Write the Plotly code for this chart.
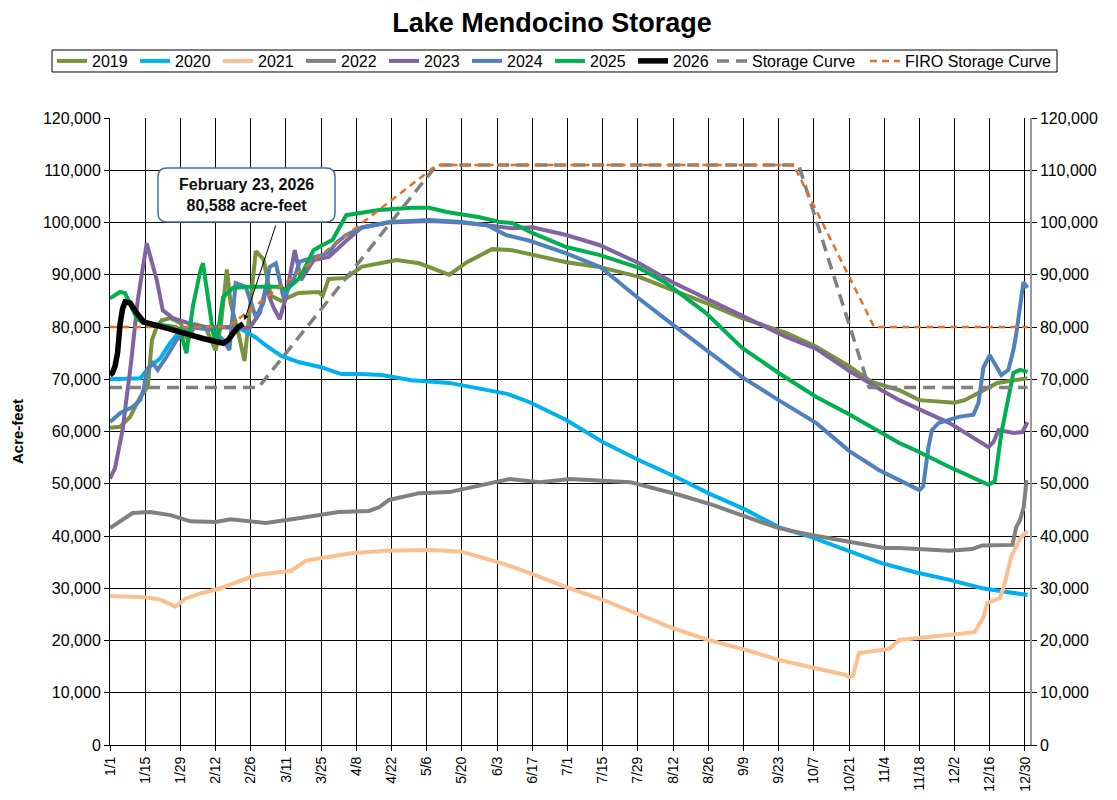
import plotly.graph_objects as go

# ---------------- data (day of year, 0 = Jan 1; storage in acre-feet) ----------------
tick_days = list(range(0, 365, 14))
tick_labels = ["1/1", "1/15", "1/29", "2/12", "2/26", "3/11", "3/25", "4/8", "4/22", "5/6",
               "5/20", "6/3", "6/17", "7/1", "7/15", "7/29", "8/12", "8/26", "9/9", "9/23",
               "10/7", "10/21", "11/4", "11/18", "12/2", "12/16", "12/30"]

days_2019 = [0, 4, 8, 12, 15, 16.7, 18.6, 20.6, 24, 28, 31, 34, 38, 42, 44, 46.5, 48, 51, 53.5, 56, 58,
             61, 64, 68, 75, 83, 84.6, 87, 94, 100, 114, 123, 135, 142, 152, 160, 168, 181.5, 194.6,
             210.5, 223.6, 237, 251.4, 269, 281, 294, 303, 314, 322, 336, 340, 344, 353, 365]
af_2019 = [60700, 60900, 62800, 66600, 68500, 77500, 80000, 81300, 81700, 80800, 77500, 80500, 80000,
           75500, 80000, 91000, 84500, 79000, 73500, 85000, 94500, 93000, 86000, 85000, 86500, 86700,
           86000, 89200, 89400, 91500, 92800, 92200, 90000, 92400, 94900, 94700, 93800, 92400, 91500,
           89600, 87100, 84600, 81700, 78900, 76200, 72500, 69500, 67900, 66000, 65500, 66000,
           67000, 69300, 70200]

days_2020 = [0, 12, 16, 20, 24, 28, 32, 50, 53, 58, 62, 68, 75, 84, 92, 100, 108, 120, 135, 147, 158,
             167, 181.5, 196, 210.5, 226, 238, 253, 266, 279, 293, 307, 320, 334, 347, 365]
af_2020 = [70000, 70200, 72500, 74000, 77000, 79300, 80000, 80000, 79400, 78000, 76500, 74500, 73300,
           72300, 71000, 71000, 70800, 69800, 69300, 68300, 67200, 65600, 62200, 58000, 54500, 51100,
           48200, 45000, 41700, 39800, 37300, 34800, 33100, 31600, 30000, 28700]

days_2021 = [0, 14, 20, 26, 30, 36, 44, 52, 58, 66, 72, 78, 86, 96, 110, 128, 140, 147, 157, 167,
             181.5, 196, 209, 223.6, 238, 253, 266, 279, 292.7, 294, 295.5, 298, 310, 314, 327, 344,
             347.5, 349, 354, 356, 358.5, 362, 365]
af_2021 = [28500, 28300, 27800, 26500, 28000, 29000, 30000, 31500, 32500, 33000, 33300, 35300, 36000,
           36700, 37200, 37300, 37000, 36000, 34600, 32900, 30200, 27800, 25300, 22400, 20100, 18200,
           16300, 14900, 13400, 13000, 13200, 17600, 18400, 20100, 20700, 21600, 24500, 27200, 28100,
           31000, 36000, 39500, 41000]

days_2022 = [0, 5, 9, 16, 24, 32, 42, 48, 55, 62, 75, 91, 103, 107, 111, 123, 135, 143, 147, 159, 171,
             183, 207, 227, 240, 253, 266, 279, 293, 308, 314, 322, 334, 343, 347, 359, 360.5, 362,
             363.5, 364.6]
af_2022 = [41500, 43000, 44400, 44600, 44000, 42800, 42700, 43200, 42800, 42500, 43400, 44600, 44800,
           45500, 46900, 48200, 48400, 49200, 49600, 50900, 50300, 50900, 50300, 47800, 45900, 43600,
           41500, 40200, 38900, 37700, 37700, 37500, 37200, 37500, 38200, 38300, 41700, 43000, 45500,
           50700]

days_2023 = [0, 2, 5, 8.5, 11, 14.6, 18.6, 21, 25, 36, 55.6, 59.6, 62, 65, 67.5, 70, 73.5, 76, 81, 87,
             94, 100, 111, 127, 140, 150, 160, 168, 181.5, 194.6, 210.5, 223.6, 237, 251.4, 269, 281,
             294, 307, 314, 334, 349.5, 351.5, 353.5, 359.4, 363, 365]
af_2023 = [51000, 53000, 60300, 73700, 85000, 96000, 89000, 83200, 81700, 80000, 79800, 82700, 87500,
           83800, 81500, 85700, 94700, 89000, 92800, 93400, 96500, 99000, 100000, 100300, 100000, 99500,
           98900, 99100, 97600, 95700, 92200, 88600, 85500, 82300, 78100, 75800, 71600, 67900,
           66000, 61600, 57000, 58000, 60300, 59700, 59900, 61800]

days_2024 = [0, 4, 9, 12, 13.5, 14.6, 17, 19, 22.5, 26.5, 31.8, 41, 45, 47.5, 50, 54, 58, 61, 63.5,
             66, 69, 73, 75.5, 81, 87, 90, 94, 100.5, 111, 127, 140, 150, 157.6, 167, 181, 195, 210,
             224, 237, 251.5, 266, 281, 294, 306, 314, 322, 323.5, 325.6, 327, 329.6, 337.6, 343.5,
             345.5, 347.5, 350, 352.6, 354.6, 357.4, 359.4, 360.6, 362, 363.4, 365]
af_2024 = [61800, 63500, 64700, 66000, 68300, 71800, 73100, 71800, 74300, 77500, 80000, 79400, 77500,
           75600, 88400, 87700, 81900, 84600, 91500, 92200, 85700, 89000, 92500, 93400, 94200, 96100,
           97600, 99100, 100100, 100500, 100100, 99500, 97600, 96500, 94200, 91500, 85600, 80400,
           75600, 70400, 66000, 61600, 56300, 52600, 50700, 48800, 49500, 57000, 60300, 61600, 62800,
           63200, 65500, 72300, 74600, 72300, 70800, 71800, 75600, 78900, 83300, 88600, 87500]

days_2025 = [0, 4, 6, 8, 10.6, 13.2, 20, 26, 28, 30.4, 33, 36, 37, 39, 41, 42.3, 45, 49, 55.6, 67.5,
             70, 75.5, 81, 84.6, 88.6, 91.3, 94, 107, 120, 127, 134, 147, 155, 160, 168, 181.5, 194.6,
             210.5, 221, 237, 251.5, 266, 281, 294, 307, 314, 320, 334, 349.5, 352, 354.6, 357.4, 359.4,
             362, 365]
af_2025 = [85500, 86700, 86500, 84200, 81700, 80800, 80300, 80000, 79400, 75000, 84000, 90900, 92200,
           86000, 78900, 76900, 85700, 87500, 87700, 87700, 87100, 89400, 94700, 95700, 96700, 99100,
           101400, 102400, 102800, 102800, 102000, 101000, 100100, 99900, 98000, 95300, 93800, 91300,
           88500, 82700, 76000, 71200, 66600, 63300, 59700, 57800, 56500, 53200, 49800, 50500, 59700,
           66000, 71200, 71800, 71400]

days_2026 = [0, 1, 2, 3, 4, 5, 6, 8, 10.6, 13.3, 22.5, 29, 37, 45, 47, 49, 51, 53]
af_2026 = [70800, 71200, 72500, 75000, 80500, 83500, 84800, 84600, 82700, 81000, 79800, 78800, 77800,
           76900, 77500, 78800, 80000, 80588]

days_storage = [0, 59, 130, 274, 302, 365]
af_storage = [68400, 68400, 111000, 111000, 68400, 68400]

days_firo = [0, 47, 130, 272, 304, 365]
af_firo = [80000, 80000, 111000, 111000, 80000, 80000]

latest_day = 53
latest_af = 80588
latest_label = "February 23, 2026"

# ---------------- figure geometry (page body adds an 8px offset) ----------------
FONT = "Liberation Sans, Arial, sans-serif"
W, H = 1109, 792
ML, MR, MT, MB = 102, 87, 110, 55
PW, PH = W - ML - MR, H - MT - MB


def px_to_paper(px, py):
    return (px - ML) / PW, (H - MB - py) / PH


def P(x, y):
    a, b = px_to_paper(x, y)
    return f"{a:.5f},{b:.5f}"


fig = go.Figure()

years = [
    ("2019", days_2019, af_2019, "#77933C"),
    ("2020", days_2020, af_2020, "#00B0F0"),
    ("2021", days_2021, af_2021, "#FAC090"),
    ("2022", days_2022, af_2022, "#808080"),
    ("2023", days_2023, af_2023, "#8064A2"),
    ("2024", days_2024, af_2024, "#4F81BD"),
    ("2025", days_2025, af_2025, "#00B050"),
]
for i, (name, dx, dy, col) in enumerate(years):
    fig.add_trace(go.Scatter(x=dx, y=dy, name=name, mode="lines", legend="legend",
                             line=dict(color=col, width=4), legendrank=i + 1))

fig.add_trace(go.Scatter(x=days_storage, y=af_storage, name="Storage Curve", mode="lines",
                         legend="legend2",
                         line=dict(color="#808080", width=3.5, dash="12px,7px")))
fig.add_trace(go.Scatter(x=days_firo, y=af_firo, name="FIRO Storage Curve", mode="lines",
                         legend="legend3",
                         line=dict(color="#E07126", width=2.5, dash="7px,5px")))
fig.add_trace(go.Scatter(x=days_2026, y=af_2026, name="2026", mode="lines", legend="legend",
                         line=dict(color="#000000", width=5.5), legendrank=8))
# invisible trace so the right-hand axis is drawn
fig.add_trace(go.Scatter(x=[0], y=[0], yaxis="y2", mode="lines", showlegend=False,
                         hoverinfo="skip", line=dict(width=0)))

# legend frame
lx0, ly0, lx1, ly1 = 44, 42, 1049, 64
fig.add_shape(type="path", xref="paper", yref="paper", layer="above",
              path=f"M{P(lx0, ly0)} L{P(lx1, ly0)} L{P(lx1, ly1)} L{P(lx0, ly1)} Z",
              line=dict(color="black", width=1))

# rounded call-out box
bx0, by0, bx1, by1, r = 150, 160, 327, 214, 9
path = (f"M{P(bx0 + r, by0)} L{P(bx1 - r, by0)} Q{P(bx1, by0)} {P(bx1, by0 + r)} "
        f"L{P(bx1, by1 - r)} Q{P(bx1, by1)} {P(bx1 - r, by1)} "
        f"L{P(bx0 + r, by1)} Q{P(bx0, by1)} {P(bx0, by1 - r)} "
        f"L{P(bx0, by0 + r)} Q{P(bx0, by0)} {P(bx0 + r, by0)} Z")
fig.add_shape(type="path", path=path, xref="paper", yref="paper", layer="above",
              fillcolor="white", line=dict(color="#41719C", width=1.5))

cx, cy = px_to_paper((bx0 + bx1) / 2, (by0 + by1) / 2)
fig.add_annotation(xref="paper", yref="paper", x=cx, y=cy, xanchor="center", yanchor="middle",
                   text=f"<b>{latest_label}<br>{latest_af:,} acre-feet</b>",
                   showarrow=False, font=dict(family=FONT, size=16, color="#111111"),
                   align="center")
fig.add_annotation(x=latest_day, y=latest_af, xref="x", yref="y", text="",
                   showarrow=True, ax=33, ay=-100, arrowhead=2, arrowsize=1,
                   arrowwidth=1, arrowcolor="black", standoff=4)

legend_common = dict(orientation="h", xref="container", yref="container", xanchor="left",
                     yanchor="middle", y=1 - 53 / H, bgcolor="rgba(0,0,0,0)", borderwidth=0,
                     font=dict(family=FONT, size=16), itemwidth=30, traceorder="normal")

fig.update_layout(
    width=W, height=H,
    margin=dict(l=ML, r=MR, t=MT, b=MB, autoexpand=False),
    paper_bgcolor="white", plot_bgcolor="white",
    font=dict(family=FONT, color="black"),
    title=dict(text="<b>Lake Mendocino Storage</b>", x=544 / W, xref="container",
               y=1 - 15 / H, yanchor="middle", xanchor="center",
               font=dict(family=FONT, size=27, color="black")),
    legend=dict(x=44 / W, entrywidth=38, entrywidthmode="pixels", **legend_common),
    legend2=dict(x=704 / W, **legend_common),
    legend3=dict(x=857 / W, **legend_common),
    showlegend=True,
    xaxis=dict(range=[0, 366], tickmode="array", tickvals=tick_days, ticktext=tick_labels,
               tickangle=-90, showgrid=True, gridcolor="black", gridwidth=1,
               ticks="outside", ticklen=5, tickcolor="black", showline=True,
               linecolor="black", linewidth=1, zeroline=False, automargin=False,
               tickfont=dict(family=FONT, size=14)),
    yaxis=dict(range=[0, 120000], dtick=10000, tickformat=",d", showgrid=True,
               gridcolor="black", gridwidth=1, ticks="outside", ticklen=5, tickcolor="black",
               showline=True, linecolor="black", linewidth=1, zeroline=False, automargin=False,
               tickfont=dict(family=FONT, size=16),
               title=dict(text="<b>Acre-feet</b>", font=dict(family=FONT, size=15), standoff=15)),
    yaxis2=dict(range=[0, 120000], dtick=10000, tickformat=",d", overlaying="y", side="right",
                showgrid=False, ticks="outside", ticklen=5, tickcolor="black", automargin=False,
                showline=True, linecolor="#999999", linewidth=1.5, zeroline=False,
                tickfont=dict(family=FONT, size=16)),
)

fig.write_html("out.html")
